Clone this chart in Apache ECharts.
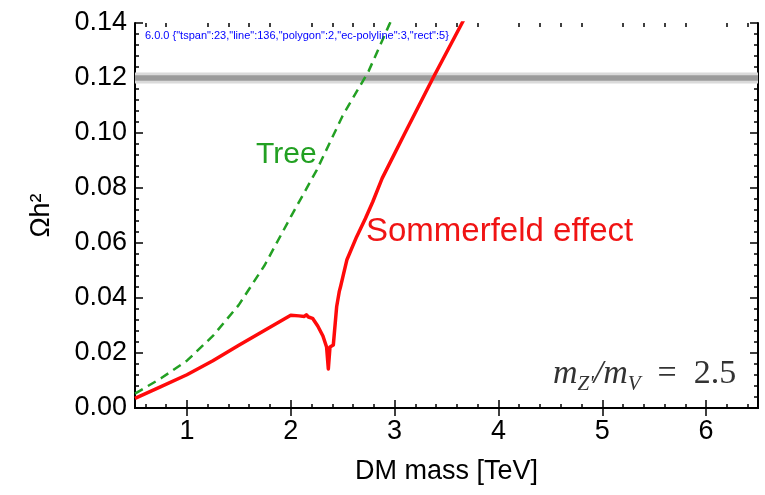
<!DOCTYPE html>
<html>
<head>
<meta charset="utf-8">
<script src="https://cdn.jsdelivr.net/npm/echarts@6/dist/echarts.min.js"></script>
<style>
  html, body { margin: 0; padding: 0; background: #fff; }
  #chart { width: 765px; height: 495px; }
</style>
</head>
<body>
<div id="chart"></div>
<script>
// relic density vs DM mass
const treeMass = [0.5, 0.75, 1.0, 1.25, 1.5, 1.75, 2.0, 2.25, 2.5, 2.75, 2.95, 2.99];
const treeOmega = [0.0052, 0.0108, 0.0172, 0.0262, 0.0375, 0.052, 0.0695, 0.0865, 0.1063, 0.1225, 0.1395, 0.1425];

const sommMass = [0.5, 0.75, 1.0, 1.25, 1.5, 1.75, 2.0, 2.08, 2.13, 2.15, 2.17, 2.21, 2.26, 2.31, 2.345, 2.362, 2.378, 2.41, 2.442, 2.467, 2.48, 2.54, 2.635, 2.72, 2.79, 2.88, 3.0, 3.1, 3.37, 3.65, 3.72];
const sommOmega = [0.0035, 0.0078, 0.0121, 0.0172, 0.0228, 0.0283, 0.0337, 0.0335, 0.0333, 0.0339, 0.0331, 0.0326, 0.0298, 0.0262, 0.0222, 0.0142, 0.0222, 0.0229, 0.0368, 0.0423, 0.0442, 0.0538, 0.0623, 0.0690, 0.0750, 0.0835, 0.0925, 0.1000, 0.1200, 0.1400, 0.1452];

// Planck band
const bandOuter = [0.118, 0.122];
const bandInner = [0.119, 0.121];

const xTicks = [1, 2, 3, 4, 5, 6];
const xRange = [0.5, 6.5];
const yRange = [0, 0.14];

const FONT = "'Liberation Sans', Arial, sans-serif";
const SERIF = "'Liberation Serif', 'DejaVu Serif', serif";

// minor ticks every 0.2 on x
const xMinor = [];
for (let i = 3; i <= 32; i++) {
    const v = +(i * 0.2).toFixed(1);
    if (v > xRange[0] && v < xRange[1] && !xTicks.includes(v)) xMinor.push(v);
}

const pairs = (xs, ys) => xs.map((x, i) => [x, ys[i]]);

const myChart = echarts.init(document.getElementById('chart'));

const gridBox = { left: 135, right: 7, top: 23, bottom: 87, containLabel: false };
const frameLine = () => ({ show: true, lineStyle: { color: '#000', width: 2 } });

const majorX = (pos, labels) => ({
    gridIndex: 0,
    type: 'value',
    position: pos,
    min: xRange[0],
    max: xRange[1],
    splitLine: { show: false },
    axisLine: frameLine(),
    axisTick: { show: true, inside: true, length: 8, customValues: xTicks, lineStyle: { color: '#000', width: 1.5 } },
    axisLabel: labels
        ? { show: true, customValues: xTicks, margin: 10, color: '#000', fontSize: 27, fontFamily: FONT }
        : { show: false },
    name: labels ? 'DM mass [TeV]' : '',
    nameLocation: 'middle',
    nameGap: 50,
    nameTextStyle: { color: '#000', fontSize: 27, fontFamily: FONT }
});

const minorX = (pos) => ({
    gridIndex: 1,
    type: 'value',
    position: pos,
    min: xRange[0],
    max: xRange[1],
    splitLine: { show: false },
    axisLine: { show: false },
    axisTick: { show: true, inside: true, length: 4, customValues: xMinor, lineStyle: { color: '#000', width: 1.5 } },
    axisLabel: { show: false }
});

const yAx = (pos, labels) => ({
    gridIndex: 0,
    type: 'value',
    position: pos,
    min: yRange[0],
    max: yRange[1],
    interval: 0.02,
    splitLine: { show: false },
    axisLine: frameLine(),
    axisTick: { show: true, inside: true, length: 8, lineStyle: { color: '#000', width: 1.5 } },
    minorTick: { show: true, splitNumber: 5, length: 4, lineStyle: { color: '#000', width: 1.5 } },
    axisLabel: labels
        ? { show: true, margin: 8, color: '#000', fontSize: 27, fontFamily: FONT, formatter: v => v.toFixed(2) }
        : { show: false },
    name: labels ? 'Ωh²' : '',
    nameLocation: 'middle',
    nameRotate: 90,
    nameGap: 80,
    nameTextStyle: { color: '#000', fontSize: 27, fontFamily: FONT }
});

const option = {
    backgroundColor: '#fff',
    animation: false,
    grid: [gridBox, Object.assign({}, gridBox)],
    xAxis: [majorX('bottom', true), majorX('top', false), minorX('bottom'), minorX('top')],
    yAxis: [
        yAx('left', true),
        yAx('right', false),
        { gridIndex: 1, type: 'value', min: yRange[0], max: yRange[1], show: false }
    ],
    series: [
        {
            name: 'band',
            type: 'line',
            xAxisIndex: 0,
            yAxisIndex: 0,
            data: [],
            z: 1,
            markArea: {
                silent: true,
                label: { show: false },
                data: [
                    [{ xAxis: xRange[0], yAxis: bandOuter[0], itemStyle: { color: '#dadada' } }, { xAxis: xRange[1], yAxis: bandOuter[1] }],
                    [{ xAxis: xRange[0], yAxis: bandInner[0], itemStyle: { color: '#9b9b9b' } }, { xAxis: xRange[1], yAxis: bandInner[1] }]
                ]
            }
        },
        {
            name: 'Tree',
            type: 'line',
            xAxisIndex: 0,
            yAxisIndex: 0,
            z: 3,
            showSymbol: false,
            symbol: 'none',
            clip: true,
            lineStyle: { color: '#23a023', width: 2.5, type: [9, 6] },
            data: pairs(treeMass, treeOmega)
        },
        {
            name: 'Sommerfeld effect',
            type: 'line',
            xAxisIndex: 0,
            yAxisIndex: 0,
            z: 4,
            showSymbol: false,
            symbol: 'none',
            clip: true,
            lineStyle: { color: '#ff0a0a', width: 3.5, join: 'round' },
            data: pairs(sommMass, sommOmega)
        }
    ],
    graphic: [
        {
            type: 'text', left: 256, top: 140, z: 10,
            style: { text: 'Tree', fill: '#22a022', fontSize: 30, fontFamily: FONT }
        },
        {
            type: 'text', left: 366, top: 215, z: 10,
            style: { text: 'Sommerfeld effect', fill: '#f01414', fontSize: 33, fontFamily: FONT }
        },
        {
            type: 'text', left: 553, top: 354, z: 10,
            style: {
                text: "{m|m}{s|Z'}{m|/m}{s|V}{n|  =  2.5}",
                rich: {
                    m: { fontSize: 34, fontStyle: 'italic', fontFamily: SERIF, fill: '#333', lineHeight: 44 },
                    s: { fontSize: 21, fontStyle: 'italic', fontFamily: SERIF, fill: '#333', lineHeight: 44, padding: [20, 0, 0, 0] },
                    n: { fontSize: 34, fontFamily: SERIF, fill: '#333', lineHeight: 44 }
                }
            }
        }
    ]
};

myChart.setOption(option);

// debug: what got drawn
const list = myChart.getZr().storage.getDisplayList(true);
const counts = {};
list.forEach(e => { counts[e.type] = (counts[e.type] || 0) + 1; });
myChart.setOption({
    graphic: option.graphic.concat([{
        type: 'text', left: 145, top: 30, z: 20,
        style: { text: echarts.version + ' ' + JSON.stringify(counts), fontSize: 11, fill: '#00f' }
    }])
});
</script>
</body>
</html>
